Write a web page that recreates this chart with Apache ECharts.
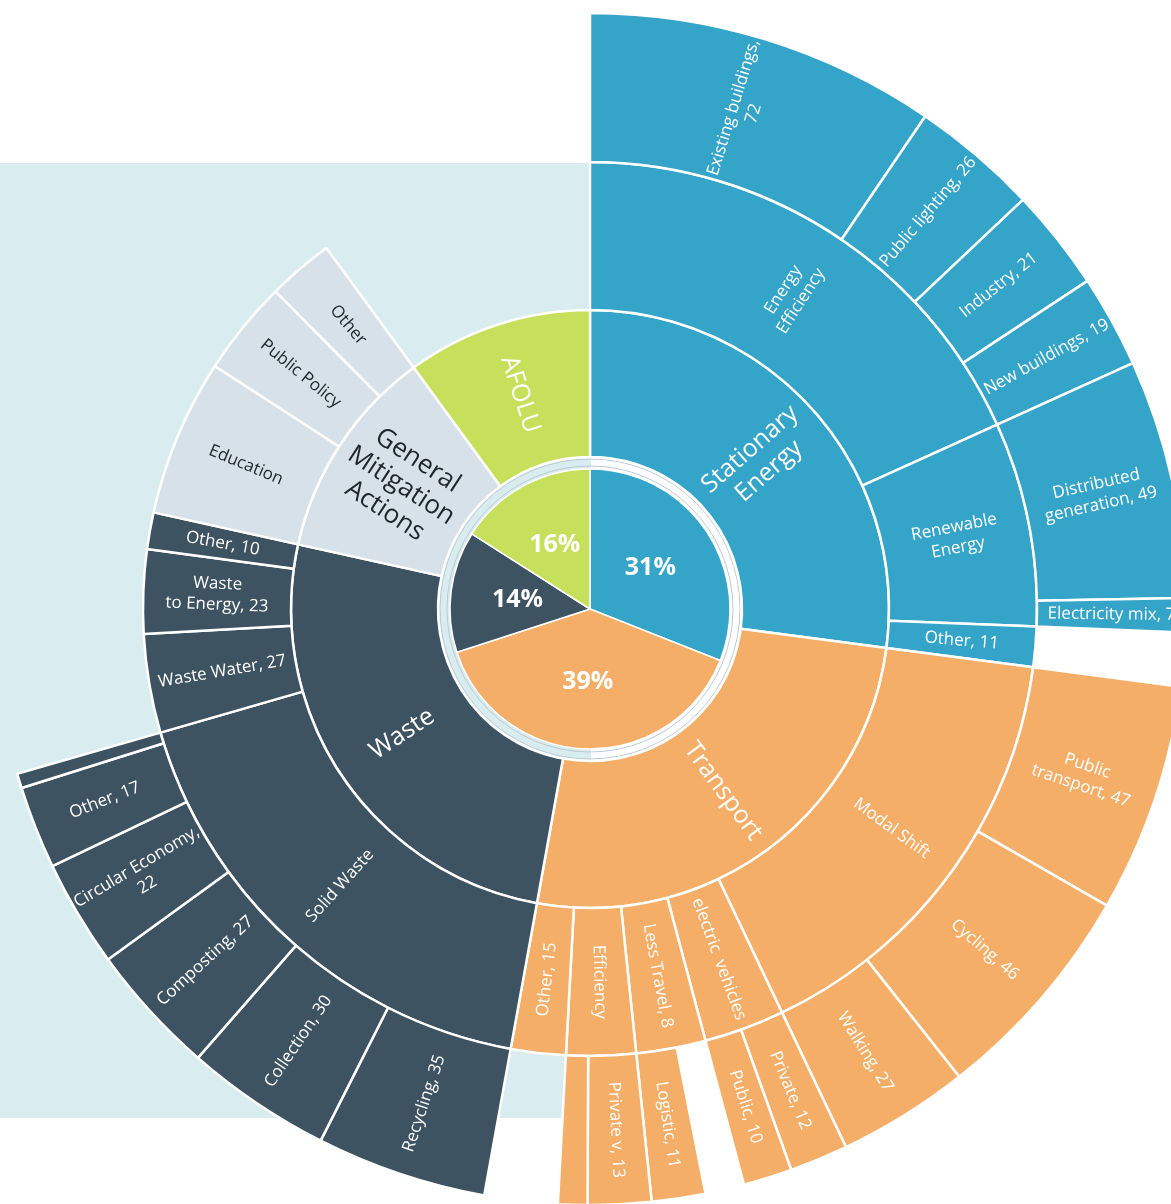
<!DOCTYPE html>
<html>
<head>
<meta charset="utf-8">
<script src="https://cdn.jsdelivr.net/npm/echarts@6/dist/echarts.min.js"></script>
<style>
  html, body { margin: 0; padding: 0; background: #fff; }
  #chart { width: 1171px; height: 1204px; }
</style>
</head>
<body>
<div id="chart"></div>
<script>
// inner ring: share of actions per sector (%)
const shareNames = ['Stationary Energy', 'Transport', 'Waste', 'AFOLU']
const shareValues = [31, 39, 14, 16]

// second ring
const sectors = ['Stationary Energy', 'Transport', 'Waste', 'General Mitigation Actions', 'AFOLU']
const sectorColors = ['#34a4c8', '#f4ae67', '#3e5362', '#d6e1e9', '#c6e05b']

// stationary energy
const energyEfficiency = [['Existing buildings', 72], ['Public lighting', 26], ['Industry', 21], ['New buildings', 19]]
const renewableEnergy = [['Distributed generation', 49], ['Electricity mix', 7]]
const stationaryOther = 11

// transport
const modalShift = [['Public transport', 47], ['Cycling', 46], ['Walking', 27]]
const electricVehicles = [['Private', 12], ['Public', 10]]
const lessTravelOwn = 8
const lessTravel = [['Logistic', 11]]
const transportEfficiency = [['Private v', 13], ['', 6]]
const transportOther = 15

// waste
const solidWaste = [['Recycling', 35], ['Collection', 30], ['Composting', 27], ['Circular Economy', 22], ['Other', 17], ['', 3]]
const wasteRest = [['Waste Water', 27], ['Waste to Energy', 23], ['Other', 10]]

// general mitigation actions (printed without counts)
const generalActions = [['Education', 43], ['Public Policy', 26], ['Other', 18]]

const afoluValue = 76

// where the printed labels wrap
const labelBreaks = {
  'Existing buildings': 'Existing buildings,\n',
  'Distributed generation': 'Distributed\ngeneration, ',
  'Public transport': 'Public\ntransport, ',
  'Circular Economy': 'Circular Economy,\n',
  'Waste to Energy': 'Waste\nto Energy, '
}

const WHITE = '#ffffff'
const DARK = '#1d262c'
const [cSta, cTra, cWas, cGen, cAfo] = sectorColors

function node (name, value, color, children, text, textColor) {
  const n = { name: name, itemStyle: { color: color }, label: { formatter: text, color: textColor || WHITE } }
  if (value != null) n.value = value
  if (children) n.children = children
  return n
}

function gap (value) {
  return { name: '', value: value, itemStyle: { color: 'rgba(0,0,0,0)', borderWidth: 0 }, label: { show: false } }
}

function leaves (list, color, textColor, withValue) {
  return list.map(([name, value]) => {
    if (!name) return { name: '', value: value, itemStyle: { color: color }, label: { show: false } }
    const text = withValue ? (labelBreaks[name] || name + ', ') + value : name
    return { name: name, value: value, itemStyle: { color: color }, label: { formatter: text, color: textColor } }
  })
}

const treeData = [
  node(sectors[0], null, cSta, [
    node('Energy Efficiency', null, cSta, leaves(energyEfficiency, cSta, WHITE, true), 'Energy\nEfficiency'),
    node('Renewable Energy', null, cSta, leaves(renewableEnergy, cSta, WHITE, true), 'Renewable\nEnergy'),
    node('Other', stationaryOther, cSta, null, 'Other, ' + stationaryOther)
  ], 'Stationary\nEnergy'),
  node(sectors[1], null, cTra, [
    node('Modal Shift', null, cTra, leaves(modalShift, cTra, WHITE, true), 'Modal Shift'),
    node('electric vehicles', null, cTra, leaves(electricVehicles, cTra, WHITE, true), 'electric  vehicles'),
    node('Less Travel', null, cTra, [gap(lessTravelOwn)].concat(leaves(lessTravel, cTra, WHITE, true)), 'Less Travel, ' + lessTravelOwn),
    node('Efficiency', null, cTra, leaves(transportEfficiency, cTra, WHITE, true), 'Efficiency'),
    node('Other', transportOther, cTra, null, 'Other, ' + transportOther)
  ], 'Transport'),
  node(sectors[2], null, cWas, [
    node('Solid Waste', null, cWas, leaves(solidWaste, cWas, WHITE, true), 'Solid Waste')
  ].concat(leaves(wasteRest, cWas, WHITE, true)), 'Waste'),
  node(sectors[3], null, cGen, leaves(generalActions, cGen, DARK, false), 'General\nMitigation\nActions', DARK),
  node(sectors[4], afoluValue, cAfo, null, 'AFOLU')
]
// bigger dark title for the general actions sector
treeData[3].label.fontSize = 26
treeData[3].label.lineHeight = 30

const chart = echarts.init(document.getElementById('chart'))

chart.setOption({
  animation: false,
  textStyle: { fontFamily: 'Open Sans' },
  graphic: [{
    type: 'rect',
    z: -10,
    shape: { x: 0, y: 163, width: 591, height: 955 },
    style: { fill: '#d9ecf0' }
  }],
  series: [
    {
      type: 'pie',
      center: [590, 609],
      radius: [0, 140],
      startAngle: 90,
      clockwise: true,
      silent: true,
      itemStyle: { borderColor: '#fff', borderWidth: 1.5 },
      label: {
        position: 'inside',
        formatter: '{c}%',
        color: '#fff',
        fontFamily: 'Open Sans',
        fontWeight: 'bold',
        fontSize: 25
      },
      labelLine: { show: false },
      data: shareNames.map((n, i) => ({
        name: n,
        value: shareValues[i],
        itemStyle: { color: sectorColors[sectors.indexOf(n)] }
      }))
    },
    {
      // thin separating ring around the centre pie
      type: 'pie',
      center: [590, 609],
      radius: [143, 150],
      silent: true,
      label: { show: false },
      itemStyle: { color: 'rgba(0,0,0,0)', borderColor: '#bccbd2', borderWidth: 1 },
      data: [{ name: '', value: 1 }]
    },
    {
      type: 'sunburst',
      center: [590, 609],
      startAngle: 90,
      sort: null,
      nodeClick: false,
      emphasis: { disabled: true },
      itemStyle: { borderColor: '#fff', borderWidth: 2.5 },
      label: { rotate: 'radial', color: '#fff', fontFamily: 'Open Sans', fontSize: 17 },
      levels: [
        {},
        { r0: 152, r: 299, label: { fontSize: 25, lineHeight: 29 } },
        { r0: 299, r: 447, label: { fontSize: 17, lineHeight: 21 } },
        { r0: 447, r: 596, label: { fontSize: 17, lineHeight: 21 } }
      ],
      data: treeData
    }
  ]
})
</script>
</body>
</html>
